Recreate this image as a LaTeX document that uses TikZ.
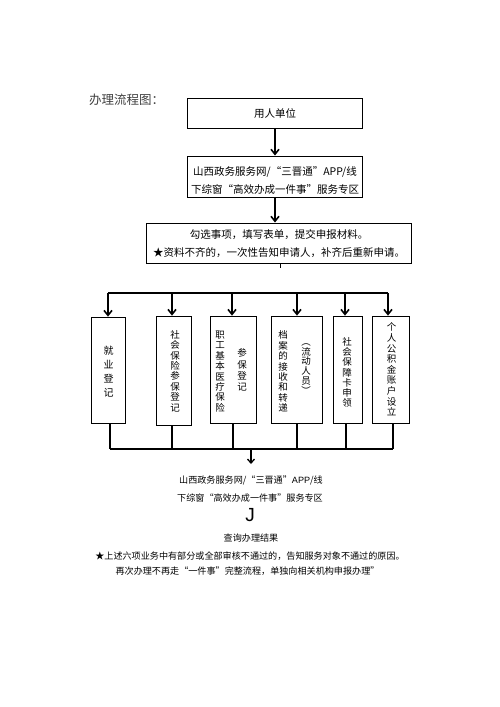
\documentclass[tikz,border=0pt]{standalone}
\usepackage{fontspec}
\setmainfont{Noto Sans CJK SC}
\newfontfamily\latinsans{Liberation Sans}
\usetikzlibrary{arrows.meta,calc}
\begin{document}
\begin{tikzpicture}[x=1pt,y=-1pt,
  topbox/.style={draw, line width=1.9pt, inner sep=0pt, align=center},
  botbox/.style={draw, line width=1.7pt, inner sep=0pt},
  boxtext/.style={font=\fontsize{10.5}{18}\selectfont, align=center, inner sep=0pt},
  vt/.style={font=\fontsize{9.5}{10.4}\selectfont, align=center, inner sep=0pt},
  lowtext/.style={font=\fontsize{9.1}{11}\selectfont, inner sep=0pt},
  arr/.style={line width=1.6pt, -{Straight Barb[length=5pt,width=8pt,line width=1.6pt]}},
  arrs/.style={line width=1.3pt, -{Straight Barb[length=4pt,width=7pt,line width=1.3pt]}},
  bus/.style={line width=1.6pt},
]
\useasboundingbox (0,0) rectangle (500,707);
\fill[white] (0,0) rectangle (500,707);

% title
\node[anchor=west, inner sep=0pt, font=\fontsize{12.5}{14}\selectfont, text=black!75] (title) at (89,100) {办理流程图：};

% top boxes
\node[topbox, minimum width=175, minimum height=30, font=\fontsize{10.5}{12}\selectfont] (u) at (275,113.5) {用人单位};
\node[topbox, minimum width=175, minimum height=41] (s1) at (275,177) {};
\node[boxtext] (s1t) at (275,181) {山西政务服务网/“三晋通”APP/线\\下综窗“高效办成一件事”服务专区};
\node[topbox, minimum width=265, minimum height=40, font=\fontsize{10.5}{18}\selectfont] (f) at (279,243.5) {勾选事项，填写表单，提交申报材料。\\★资料不齐的，一次性告知申请人，补齐后重新申请。};

\draw[arr] (u.south) -- (s1.north);
\draw[arr] (s1.south) -- (s1.south |- f.north);
\draw[line width=1pt] ($(f.south)+(1,0)$) -- ++(0,4);

% bottom boxes
\node[botbox, minimum width=34, minimum height=106] (b1) at (108.5,370.5) {};
\node[botbox, minimum width=35, minimum height=109] (b2) at (174,371) {};
\node[botbox, minimum width=46, minimum height=107] (b3) at (233.5,370) {};
\node[botbox, minimum width=51, minimum height=107] (b4) at (297,370) {};
\node[botbox, minimum width=29, minimum height=107] (b5) at (348,370) {};
\node[botbox, minimum width=37, minimum height=107] (b6) at (391,370) {};

% vertical texts
\node[vt, font=\fontsize{10}{14}\selectfont] (t1) at (108.5,372) {就\\业\\登\\记};
\node[vt] (t2) at (175,371) {社\\会\\保\\险\\参\\保\\登\\记};
\node[vt] (t3a) at (220,371.5) {职\\工\\基\\本\\医\\疗\\保\\险};
\node[vt, font=\fontsize{9.5}{11.3}\selectfont] (t3b) at (242,370) {参\\保\\登\\记};
\node[vt] (t4a) at (283,371.5) {档\\案\\的\\接\\收\\和\\转\\递};
\node[vt, font=\fontsize{9.5}{9.8}\selectfont] (t4b) at (306,369) {︵\\流\\动\\人\\员\\︶};
\node[vt, font=\fontsize{9.5}{10.2}\selectfont] (t5) at (347,372.5) {社\\会\\保\\障\\卡\\申\\领};
\node[vt, font=\fontsize{9.5}{10.6}\selectfont] (t6) at (391.5,369.5) {个\\人\\公\\积\\金\\账\\户\\设\\立};

% distribution bus
\coordinate (tl) at (108,293);
\coordinate (tr) at (388,293);
\draw[bus] (tl) -- (tr);
\coordinate (a1) at (108,293);
\coordinate (a2) at (172,293);
\coordinate (a3) at (232,293);
\coordinate (a4) at (297,293);
\coordinate (a5) at (345,293);
\coordinate (a6) at (388,293);
\draw[arr] (a1) -- (a1 |- b1.north);
\draw[arr] (a2) -- (a2 |- b2.north);
\draw[arr] (a3) -- (a3 |- b3.north);
\draw[arr] (a4) -- (a4 |- b4.north);
\draw[arr] (a5) -- (a5 |- b5.north);
\draw[arr] (a6) -- (a6 |- b6.north);

% collecting bus
\coordinate (bl) at (110,449);
\coordinate (br) at (393,449);
\draw[bus] (bl) -- (br);
\coordinate (c1) at (110,449);
\coordinate (c2) at (172,449);
\coordinate (c3) at (233,449);
\coordinate (c4) at (297,449);
\coordinate (c5) at (346,449);
\coordinate (c6) at (393,449);
\draw[bus] (c1 |- b1.south) -- (c1);
\draw[bus] (c2 |- b2.south) -- (c2);
\draw[bus] (c3 |- b3.south) -- (c3);
\draw[bus] (c4 |- b4.south) -- (c4);
\draw[bus] (c5 |- b5.south) -- (c5);
\draw[bus] (c6 |- b6.south) -- (c6);

\coordinate (m) at (251,449);
\coordinate (mend) at (251,464);
\draw[arrs] (m) -- (mend);

% lower texts
\node[lowtext] (l1) at (251,480) {山西政务服务网/“三晋通”{\latinsans APP}/线};
\node[lowtext] (l2) at (250,498) {下综窗“高效办成一件事”服务专区};
\node[inner sep=0pt, font=\latinsans\fontsize{19}{20}\selectfont] (j) at (250,515) {J};
\node[lowtext] (l3) at (251,538) {查询办理结果};
\node[lowtext] (l4) at (250,556) {★上述六项业务中有部分或全部审核不通过的，告知服务对象不通过的原因。};
\node[lowtext] (l5) at (247.5,571) {再次办理不再走“一件事”完整流程，单独向相关机构申报办理”};
\end{tikzpicture}
\end{document}
